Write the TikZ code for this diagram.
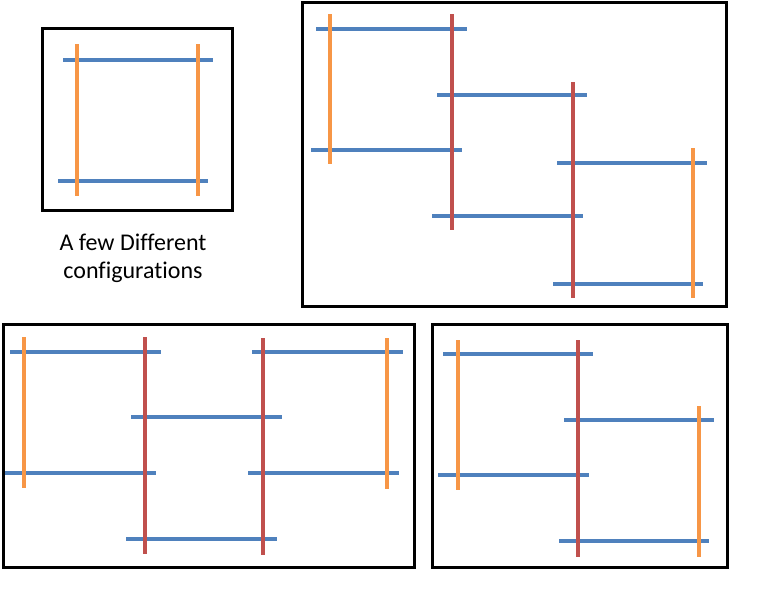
\documentclass[tikz,border=0pt]{standalone}
\usepackage{fontspec}
\setmainfont[Ligatures={NoCommon}]{Carlito}
\definecolor{barblue}{RGB}{79,129,189}
\definecolor{barorange}{RGB}{247,150,70}
\definecolor{barred}{RGB}{192,80,77}

\begin{document}
\begin{tikzpicture}[
  x=1pt, y=-1pt,
  framebox/.style={
    draw=black,
    line width=3pt
  },
  hbar/.style={
    draw=barblue,
    line width=4pt
  },
  endbar/.style={
    draw=barorange,
    line width=3.5pt
  },
  midbar/.style={
    draw=barred,
    line width=3.5pt
  },
  labeltext/.style={
    align=center,
    font=\fontsize{24}{28}\selectfont
  }
  ]
  \useasboundingbox (0,0) rectangle (768,614);

  % single square
  \draw[framebox] (42,28) rectangle (232,210);
  \draw[hbar] (63,60) -- (213,60);
  \draw[hbar] (58,181) -- (208,181);
  \draw[endbar] (77,44) -- (77,196);
  \draw[endbar] (198,44) -- (198,196);

  \node[labeltext] (caption) at (133,258) {A few Different\\configurations};

  % staircase of three
  \draw[framebox] (302,2) rectangle (726,306);
  \draw[hbar] (316,29) -- (467,29);
  \draw[hbar] (437,95) -- (587,95);
  \draw[hbar] (311,150) -- (462,150);
  \draw[hbar] (557,163) -- (707,163);
  \draw[hbar] (432,216) -- (583,216);
  \draw[hbar] (553,284) -- (703,284);
  \draw[endbar] (330,14) -- (330,164);
  \draw[endbar] (693,148) -- (693,298);
  \draw[midbar] (452,14) -- (452,230);
  \draw[midbar] (573,82) -- (573,298);

  % three in a row
  \draw[framebox] (3,324) rectangle (414,567);
  \draw[hbar] (10,352) -- (161,352);
  \draw[hbar] (252,352) -- (403,352);
  \draw[hbar] (131,417) -- (282,417);
  \draw[hbar] (5,473) -- (156,473);
  \draw[hbar] (248,473) -- (399,473);
  \draw[hbar] (126,539) -- (277,539);
  \draw[endbar] (24,337) -- (24,488);
  \draw[endbar] (387,338) -- (387,489);
  \draw[midbar] (145,337) -- (145,554);
  \draw[midbar] (263,338) -- (263,555);

  % two offset
  \draw[framebox] (432,324) rectangle (727,567);
  \draw[hbar] (443,354) -- (593,354);
  \draw[hbar] (564,420) -- (714,420);
  \draw[hbar] (438,475) -- (589,475);
  \draw[hbar] (559,541) -- (709,541);
  \draw[endbar] (458,340) -- (458,490);
  \draw[endbar] (699,406) -- (699,557);
  \draw[midbar] (578,340) -- (578,557);

\end{tikzpicture}
\end{document}
